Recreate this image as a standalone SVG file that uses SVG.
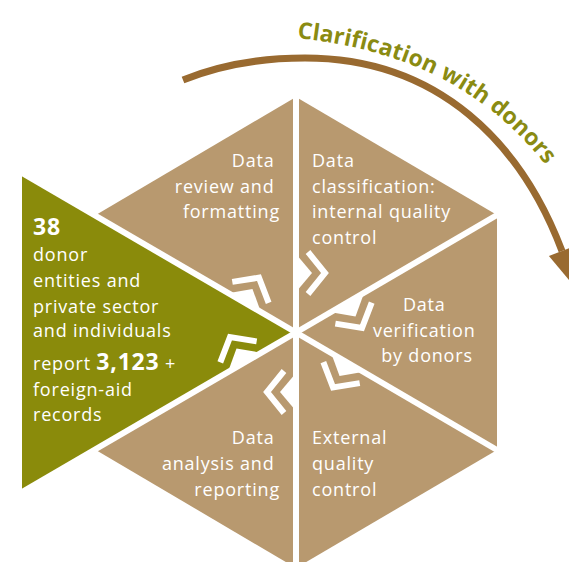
<svg xmlns="http://www.w3.org/2000/svg" width="569" height="562" viewBox="0 0 569 562">
  <defs>
    <style>
      .seg { fill: #b8996f; }
      .src { fill: #8a8b0b; }
      .lbl { font-family: "Open Sans", "Noto Sans", sans-serif; font-size: 18px; fill: #ffffff; letter-spacing: 0.8px; }
      .num { font-weight: 700; font-size: 23px; letter-spacing: 0.8px; }
      .divider { stroke: #ffffff; stroke-width: 6; fill: none; }
      .arc { stroke: #996a30; stroke-width: 7; fill: none; }
      .title { font-family: "Open Sans", "Noto Sans", sans-serif; font-weight: 700; font-size: 23px; fill: #8a8b12; letter-spacing: 0.1px; }
    </style>
    <!-- arrowhead at the end of the feedback arc -->
    <marker id="arc-head" markerUnits="userSpaceOnUse" viewBox="0 0 42 32" markerWidth="42" markerHeight="32" refX="0" refY="16" orient="auto" overflow="visible">
      <path d="M0,2 L40,16 L0,30 Z" fill="#996a30"/>
    </marker>
    <!-- one flow arrow (filled head + chevron), drawn above the hub, rotated into place -->
    <g id="flow-arrow">
      <path d="M0,-78.5 L16,-59.5 L0,-40.5 Z" fill="#ffffff"/>
      <path d="M12,-80.5 L29,-59.5 L12,-38.5" fill="none" stroke="#ffffff" stroke-width="6"/>
    </g>
    <path id="title-path" d="M297,38 C390,48 480,80 548,168"/>
  </defs>

  <!-- source: reporting entities -->
  <g id="source">
    <polygon class="src" points="22,173 22,492 296,332.5"/>
    <text class="lbl">
      <tspan x="33" y="235" class="num">38</tspan>
      <tspan x="33" y="260.7">donor</tspan>
      <tspan x="33" y="286.7">entities and</tspan>
      <tspan x="33" y="312.7">private sector</tspan>
      <tspan x="33" y="337">and individuals</tspan>
      <tspan x="33" y="370">report <tspan class="num">3,123</tspan> +</tspan>
      <tspan x="33" y="395.5">foreign-aid</tspan>
      <tspan x="33" y="421">records</tspan>
    </text>
  </g>

  <g id="review">
    <polygon class="seg" points="296,332.5 296,97 95,215.5"/>
    <text class="lbl" text-anchor="end">
      <tspan x="280" y="166.7">Data</tspan>
      <tspan x="280" y="192.5">review and</tspan>
      <tspan x="280" y="218.3">formatting</tspan>
    </text>
  </g>

  <g id="classification">
    <polygon class="seg" points="296,332.5 296,97 497,215"/>
    <text class="lbl">
      <tspan x="312" y="166.7">Data</tspan>
      <tspan x="312" y="192.5">classification:</tspan>
      <tspan x="312" y="218.3">internal quality</tspan>
      <tspan x="312" y="244">control</tspan>
    </text>
  </g>

  <g id="verification">
    <polygon class="seg" points="296,332.5 497,215 497,450"/>
    <text class="lbl" text-anchor="middle">
      <tspan x="427" y="311">Data</tspan>
      <tspan x="427" y="336.7">verification</tspan>
      <tspan x="427" y="362.4">by donors</tspan>
    </text>
  </g>

  <g id="external">
    <polygon class="seg" points="296,332.5 497,450 296,568"/>
    <text class="lbl">
      <tspan x="312" y="444">External</tspan>
      <tspan x="312" y="469.8">quality</tspan>
      <tspan x="312" y="495.6">control</tspan>
    </text>
  </g>

  <g id="analysis">
    <polygon class="seg" points="296,332.5 296,568 95,449.5"/>
    <text class="lbl" text-anchor="end">
      <tspan x="280" y="444">Data</tspan>
      <tspan x="280" y="469.8">analysis and</tspan>
      <tspan x="280" y="495.6">reporting</tspan>
    </text>
  </g>

  <g id="connectors">
    <!-- white gaps between the segments -->
    <line class="divider" x1="296" y1="88" x2="296" y2="570"/>
    <line class="divider" x1="296" y1="332.5" x2="503" y2="211.5"/>
    <line class="divider" x1="296" y1="332.5" x2="503" y2="453.5"/>
    <line class="divider" x1="296" y1="332.5" x2="22" y2="173"/>
    <line class="divider" x1="296" y1="332.5" x2="22" y2="492"/>
    <!-- clockwise flow arrows around the hub -->
    <use href="#flow-arrow" transform="translate(296 332.5) rotate(0)"/>
    <use href="#flow-arrow" transform="translate(296 332.5) rotate(60)"/>
    <use href="#flow-arrow" transform="translate(296 332.5) rotate(120)"/>
    <use href="#flow-arrow" transform="translate(296 332.5) rotate(180)"/>
    <use href="#flow-arrow" transform="translate(296 332.5) rotate(240)"/>
    <use href="#flow-arrow" transform="translate(296 332.5) rotate(300)"/>
    <!-- feedback arc -->
    <path id="clarification-arc" class="arc" d="M183,80 C215,67 258,58 305,58 C440,58 522,145 562,251" marker-end="url(#arc-head)"/>
  </g>

  <g id="clarification-label">
    <text class="title"><textPath href="#title-path">Clarification with donors</textPath></text>
  </g>
</svg>
